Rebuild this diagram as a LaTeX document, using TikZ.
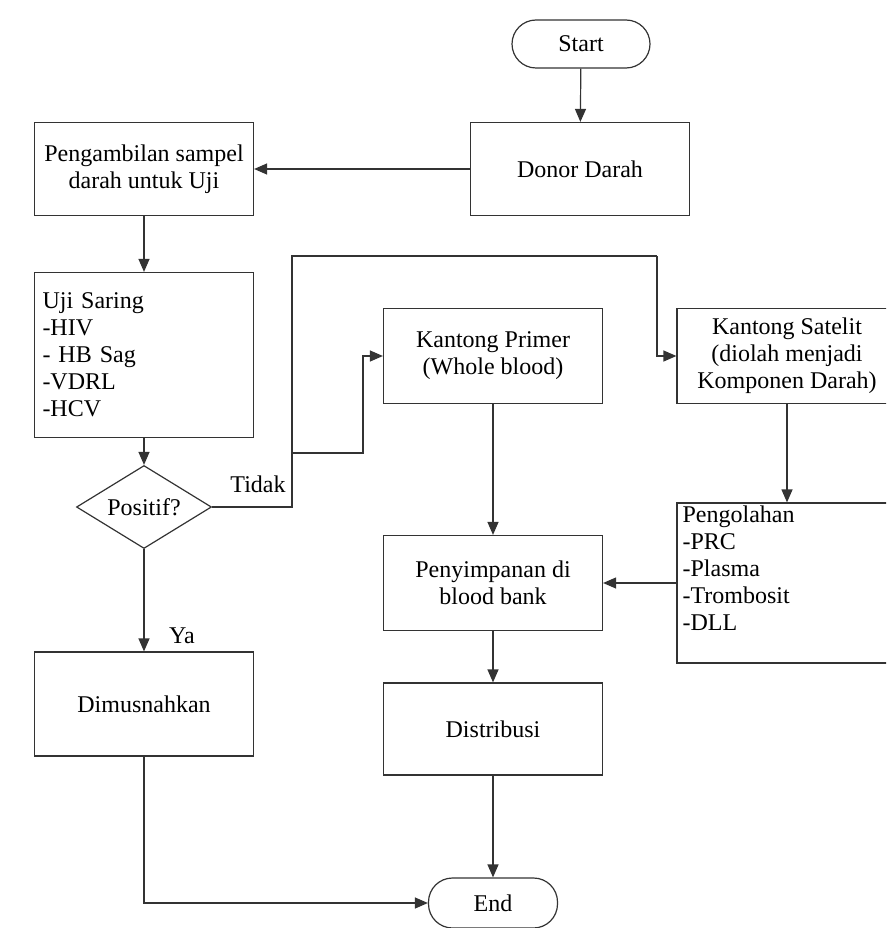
\documentclass[tikz,border=0pt]{standalone}
\usepackage{fontspec}
\setmainfont{Liberation Serif}
\usetikzlibrary{shapes.geometric,arrows.meta}

\begin{document}
\begin{tikzpicture}[x=1pt,y=-1pt,
                    line width=1.2pt,
                    draw=black!80,
                    font=\fontsize{24}{27}\selectfont]
    \tikzstyle{proses}=[rectangle,draw,minimum width=219pt,minimum height=93pt,
                        inner sep=0pt,align=center]
    \tikzstyle{terminal}=[proses,rounded corners=24pt,minimum width=138pt,minimum height=48pt];
    \tikzstyle{keputusan}=[diamond,draw,aspect=1.6,inner sep=1pt,
                           minimum width=135pt,minimum height=83pt];
    \tikzstyle{panah}=[-{Triangle[length=13pt,width=11pt]}]

    \useasboundingbox (0,0) rectangle (886,928);
    \clip (0,0) rectangle (886,928);

    \node[terminal] (start) at (581,44) {Start};
    \node[proses] (donor) at (580,169) {Donor Darah};
    \node[proses] (sampel) at (144,169) {Pengambilan sampel\\darah untuk Uji};
    \node[proses,minimum height=165pt,text width=203pt,align=left] (saring) at (144,355)
        {Uji Saring\\-HIV\\- HB Sag\\-VDRL\\-HCV};
    \node[keputusan] (positif) at (144,507) {Positif?};
    \node[proses,minimum height=104pt] (musnah) at (144,704) {Dimusnahkan};

    \node[proses,minimum height=95pt] (primer) at (493,356) {Kantong Primer\\(Whole blood)};
    \node[proses,minimum height=95pt,minimum width=220pt] (satelit) at (787,356)
        {Kantong Satelit\\(diolah menjadi\\Komponen Darah)};
    \node[proses,minimum height=160pt,minimum width=220pt] (olah) at (787,583) {};
    \node[anchor=north west,inner sep=0pt,align=left] (olahteks) at (682,505)
        {Pengolahan\\-PRC\\-Plasma\\-Trombosit\\-DLL};
    \node[proses,minimum height=95pt] (simpan) at (493,583) {Penyimpanan di\\blood bank};
    \node[proses,minimum height=92pt] (distribusi) at (493,729) {Distribusi};
    \node[terminal,minimum width=129pt,minimum height=50pt] (selesai) at (493,903) {End};

    \coordinate (jalur) at (292,256);
    \coordinate (belok) at (657,256);
    \coordinate (cabang) at (292,453);
    \coordinate (naik) at (363,453);

    \draw[panah] (start) -- (donor);
    \draw[panah] (donor) -- (sampel);
    \draw[panah] (sampel) -- (saring);
    \draw[panah] (saring) -- (positif);
    \draw (positif.east) -| (jalur) -- (belok);
    \draw[panah] (belok) |- (satelit.west);
    \draw[panah] (cabang) -- (naik) |- (primer.west);
    \draw[panah] (positif) -- (musnah);
    \draw[panah] (musnah.south) |- (selesai.west);
    \draw[panah] (primer) -- (simpan);
    \draw[panah] (satelit) -- (olah);
    \draw[panah] (olah.west |- simpan.east) -- (simpan.east);
    \draw[panah] (simpan) -- (distribusi);
    \draw[panah] (distribusi) -- (selesai);

    \node (tidak) at (258,484) {Tidak};
    \node (ya) at (182,636) {Ya};
\end{tikzpicture}
\end{document}
